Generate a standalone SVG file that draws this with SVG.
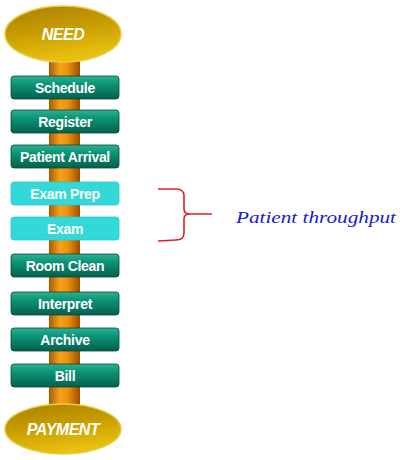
<svg xmlns="http://www.w3.org/2000/svg" width="400" height="460" viewBox="0 0 400 460">
<defs>
<linearGradient id="pole" x1="0" y1="0" x2="1" y2="0">
<stop offset="0" stop-color="#a85a00"/>
<stop offset="0.35" stop-color="#f6a21a"/>
<stop offset="0.6" stop-color="#f09010"/>
<stop offset="1" stop-color="#9a4f00"/>
</linearGradient>
<linearGradient id="box" x1="0" y1="0" x2="0" y2="1">
<stop offset="0" stop-color="#30b090"/>
<stop offset="0.35" stop-color="#0a9478"/>
<stop offset="1" stop-color="#05604c"/>
</linearGradient>
<linearGradient id="ell" x1="0" y1="0" x2="0.3" y2="1">
<stop offset="0" stop-color="#a88000"/>
<stop offset="0.5" stop-color="#c89c00"/>
<stop offset="1" stop-color="#e8c010"/>
</linearGradient>
<style>
.b{fill:url(#box);stroke:#054a3a;stroke-width:0.8}
.c{fill:#33d8d8;stroke:#2cc8c8;stroke-width:0.8}
.t{font-family:"Liberation Sans",Arial,sans-serif;font-weight:bold;font-size:14px;fill:#ffffff;text-anchor:middle;letter-spacing:-0.3px}
.e{fill:url(#ell);stroke:#e8cc40;stroke-width:1.5}
.et{font-family:"Liberation Sans",Arial,sans-serif;font-style:italic;font-weight:bold;font-size:16px;fill:#ffffff;text-anchor:middle;letter-spacing:-0.5px}
</style>
</defs>
<rect x="49" y="55" width="31" height="360" fill="url(#pole)"/>
<g id="need"><ellipse class="e" cx="63" cy="34" rx="58" ry="28"/><text class="et" x="63" y="40">NEED</text></g>
<g id="schedule"><rect class="b" x="11" y="76" width="108" height="23" rx="3"/><text class="t" x="65" y="92.5">Schedule</text></g>
<g id="register"><rect class="b" x="11" y="110" width="108" height="23" rx="3"/><text class="t" x="65" y="126.5">Register</text></g>
<g id="arrival"><rect class="b" x="11" y="145" width="108" height="23" rx="3"/><text class="t" x="65" y="161.5">Patient Arrival</text></g>
<g id="examprep"><rect class="c" x="11" y="182" width="108" height="23" rx="3"/><text class="t" x="65" y="198.5">Exam Prep</text></g>
<g id="exam"><rect class="c" x="11" y="217" width="108" height="23" rx="3"/><text class="t" x="65" y="233.5">Exam</text></g>
<g id="roomclean"><rect class="b" x="11" y="254" width="108" height="23" rx="3"/><text class="t" x="65" y="270.5">Room Clean</text></g>
<g id="interpret"><rect class="b" x="11" y="292" width="108" height="23" rx="3"/><text class="t" x="65" y="308.5">Interpret</text></g>
<g id="archive"><rect class="b" x="11" y="328" width="108" height="23" rx="3"/><text class="t" x="65" y="344.5">Archive</text></g>
<g id="bill"><rect class="b" x="11" y="364" width="108" height="23" rx="3"/><text class="t" x="65" y="380.5">Bill</text></g>
<g id="payment"><ellipse class="e" cx="63" cy="429" rx="58" ry="25"/><text class="et" x="63" y="435">PAYMENT</text></g>
<g id="connectors">
<path d="M158 189 L176 189 Q184 189 184 196 L184 209 Q184 214 190 214 L212 214 M190 214 Q184 214 184 219 L184 233 Q184 240 176 240 L158 241" fill="none" stroke="#e02020" stroke-width="1.6"/>
</g>
<g id="label"><text x="236" y="223" font-family="'Liberation Serif','Times New Roman',serif" font-style="italic" font-size="17" fill="#1a1ad0" textLength="160" lengthAdjust="spacingAndGlyphs">Patient throughput</text></g>
</svg>
